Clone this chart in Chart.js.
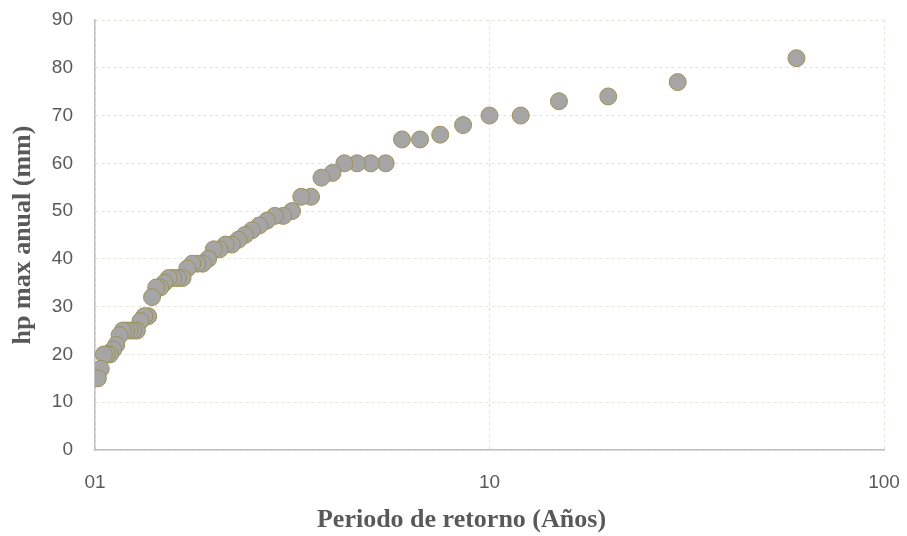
<!DOCTYPE html>
<html>
<head>
<meta charset="utf-8">
<script src="https://cdn.jsdelivr.net/npm/chart.js@4.4.0/dist/chart.umd.min.js"></script>
<style>
  html, body { margin: 0; padding: 0; background: #fff; }
  #wrap { width: 907px; height: 536px; }
</style>
</head>
<body>
<div id="wrap"><canvas id="chart"></canvas></div>
<script>
// Periodo de retorno (años) for each point
const periods = [60, 30, 20, 15, 12, 10, 8.571, 7.5, 6.667, 6,
  5.455, 5, 4.615, 4.286, 4, 3.75, 3.529, 3.333, 3.158, 3,
  2.857, 2.727, 2.609, 2.5, 2.4, 2.308, 2.222, 2.143, 2.069, 2,
  1.935, 1.875, 1.818, 1.765, 1.714, 1.667, 1.622, 1.579, 1.538, 1.5,
  1.463, 1.429, 1.395, 1.364, 1.333, 1.304, 1.277, 1.25, 1.224, 1.2,
  1.176, 1.154, 1.132, 1.111, 1.091, 1.071, 1.053, 1.034, 1.017];
// hp max anual (mm)
const hpMax = [82, 77, 74, 73, 70, 70, 68, 66, 65, 65,
  60, 60, 60, 60, 58, 57, 53, 53, 50, 49,
  49, 48, 47, 46, 45, 44, 43, 43, 42, 42,
  40, 39, 39, 39, 38, 36, 36, 36, 36, 35,
  34, 34, 32, 28, 28, 27, 25, 25, 25, 25,
  25, 24, 22, 21, 20, 20, 20, 17, 15];
const xTickValues = [1, 10, 100];
const xTickLabels = ['01', '10', '100'];
const xTitle = 'Periodo de retorno (Años)';
const yTitle = 'hp max anual (mm)';

const points = periods.map((p, i) => ({ x: p, y: hpMax[i] }));

const tickFont = { family: "'Liberation Sans', Arial, sans-serif", size: 19 };
const titleFont = { family: "'Liberation Serif', 'Times New Roman', serif", size: 26, weight: 'bold' };
const gridColor = '#e4e4d4';

// x title sits a little left of the plot centre, like the original
const xTitlePlugin = {
  id: 'xTitle',
  afterDraw: chart => {
    const ctx = chart.ctx;
    ctx.save();
    ctx.font = 'bold 26px "Liberation Serif", "Times New Roman", serif';
    ctx.fillStyle = '#595959';
    ctx.textAlign = 'center';
    ctx.textBaseline = 'middle';
    ctx.fillText(xTitle, chart.width / 2 + 8, chart.height - 16);
    ctx.restore();
  }
};

new Chart(document.getElementById('chart').getContext('2d'), {
  type: 'scatter',
  data: {
    datasets: [{
      data: points,
      backgroundColor: '#a5a5a5',
      borderColor: '#9e9256',
      borderWidth: 1,
      pointRadius: 8.5,
      pointHoverRadius: 8.5
    }]
  },
  options: {
    responsive: true,
    maintainAspectRatio: false,
    animation: false,
    layout: { padding: 0 },
    plugins: {
      legend: { display: false },
      tooltip: { enabled: false }
    },
    scales: {
      x: {
        type: 'logarithmic',
        min: 1,
        max: 100,
        afterBuildTicks: axis => {
          axis.ticks = xTickValues.map(v => ({ value: v }));
        },
        afterFit: axis => {
          axis.height = 86;
          axis.paddingLeft = 0;
          axis.paddingRight = 23;
        },
        ticks: {
          color: '#595959',
          font: tickFont,
          padding: 21,
          maxRotation: 0,
          autoSkip: false,
          callback: (value, index) => xTickLabels[index]
        },
        grid: { color: gridColor, drawTicks: false },
        border: { display: true, color: '#c0c0c0', width: 1.5, dash: [3, 3] },
        title: { display: false }
      },
      y: {
        min: 0,
        max: 90,
        afterFit: axis => {
          axis.width = 95;
          axis.paddingTop = 20;
          axis.paddingBottom = 0;
        },
        ticks: {
          stepSize: 10,
          color: '#595959',
          font: tickFont,
          padding: 22
        },
        grid: { color: gridColor, drawTicks: false },
        border: { display: true, color: '#c0c0c0', width: 1.5, dash: [3, 3] },
        title: {
          display: true,
          text: yTitle,
          color: '#595959',
          font: titleFont,
          padding: { top: 8, bottom: 8 }
        }
      }
    }
  },
  plugins: [xTitlePlugin]
});
</script>
</body>
</html>
